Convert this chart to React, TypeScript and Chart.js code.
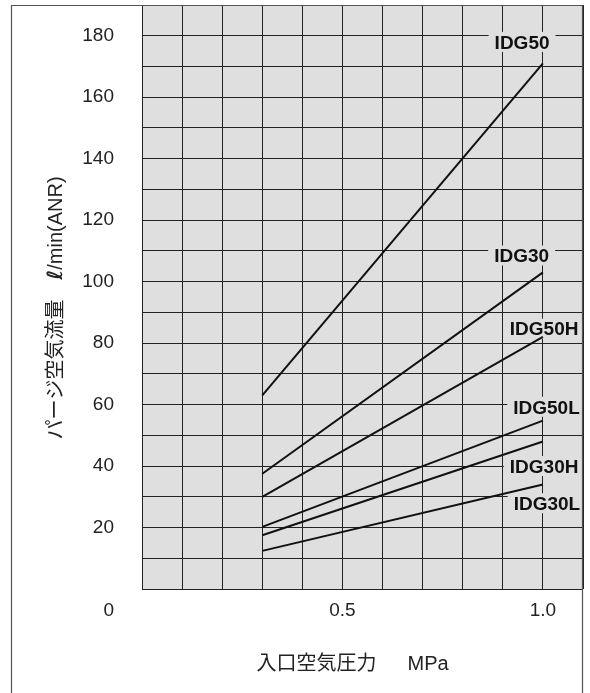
import React, { useEffect, useRef } from 'react';
import { Chart, registerables } from 'chart.js';

Chart.register(...registerables);

// ---- data ----
const pressures = [0.3, 1.0];
const seriesNames = ['IDG50', 'IDG30', 'IDG50H', 'IDG50L', 'IDG30H', 'IDG30L'];
const flowAtLow = [63, 37.5, 30, 20.2, 17.5, 12.4];
const flowAtHigh = [171, 103, 82, 54.8, 48, 34];
const labelPressure = [0.948, 0.947, 1.003, 1.009, 1.003, 1.01];
const labelFlow = [178, 108.5, 84.7, 59.3, 40, 27.9];
const xLabeledTicks = [0.5, 1.0];
const xTickTexts = ['0.5', '1.0'];
const yLabeledTicks = [20, 40, 60, 80, 100, 120, 140, 160, 180];
const originLabel = '0';
const xTitle = '入口空気圧力　  MPa　';
const yTitleParts = ['パージ空気流量　', 'ℓ', '/min(ANR)'];

const PLOT_BG = '#dfdfdf';
const GRID = '#222';
const FONT = "'Liberation Sans', 'Noto Sans CJK JP', sans-serif";
const yTitleFonts = [`20px ${FONT}`, `italic bold 21px 'DejaVu Sans', ${FONT}`, `20px ${FONT}`];

const bgPlugin = {
  id: 'plotBg',
  beforeDraw(chart: any) {
    const { ctx, chartArea: a } = chart;
    ctx.save();
    ctx.fillStyle = PLOT_BG;
    ctx.fillRect(a.left, a.top, a.right - a.left, a.bottom - a.top);
    ctx.restore();
  },
};

const labelPlugin = {
  id: 'seriesLabels',
  beforeDatasetsDraw(chart: any) {
    const { ctx, chartArea: a, scales } = chart;
    ctx.save();
    ctx.beginPath();
    ctx.rect(a.left, a.top, a.right - a.left, a.bottom - a.top);
    ctx.clip();
    ctx.font = `bold 19px ${FONT}`;
    ctx.textAlign = 'center';
    ctx.textBaseline = 'alphabetic';
    seriesNames.forEach((name, i) => {
      const cx = scales.x.getPixelForValue(labelPressure[i]);
      const cy = scales.y.getPixelForValue(labelFlow[i]);
      const w = ctx.measureText(name).width;
      ctx.fillStyle = PLOT_BG;
      ctx.fillRect(cx - w / 2 - 6, cy - 10, w + 12, 20);
      ctx.fillStyle = '#111';
      ctx.fillText(name, cx, cy + 0.358 * 19);
    });
    ctx.restore();
  },
};

const framePlugin = {
  id: 'frame',
  afterDraw(chart: any) {
    const { ctx, chartArea: a, height } = chart;
    ctx.save();
    ctx.strokeStyle = '#555';
    ctx.lineWidth = 1.2;
    ctx.beginPath();
    ctx.moveTo(11.5, height);
    ctx.lineTo(11.5, a.top + 0.5);
    ctx.lineTo(a.right - 0.5, a.top + 0.5);
    ctx.lineTo(a.right - 0.5, height);
    ctx.stroke();
    ctx.fillStyle = '#222';
    ctx.font = `19px ${FONT}`;
    ctx.textAlign = 'right';
    ctx.textBaseline = 'middle';
    ctx.fillText(originLabel, a.left - 28, a.bottom + 10 + (19 * 1.2) / 2);

    // y-axis title (mixed fonts), rotated
    const widths = yTitleParts.map((p, i) => { ctx.font = yTitleFonts[i]; return ctx.measureText(p).width; });
    const total = widths.reduce((s, w) => s + w, 0);
    ctx.translate(55, (a.top + a.bottom) / 2 + 11);
    ctx.rotate(-Math.PI / 2);
    ctx.textAlign = 'left';
    ctx.textBaseline = 'alphabetic';
    let x = -total / 2;
    yTitleParts.forEach((p, i) => {
      ctx.font = yTitleFonts[i];
      ctx.fillText(p, x, 7.4);
      x += widths[i];
    });
    ctx.restore();
  },
};

export default function App() {
  const ref = useRef<HTMLCanvasElement>(null);
  useEffect(() => {
    const canvas = ref.current!;
    const datasets = seriesNames.map((name, i) => ({
      label: name,
      data: [
        { x: pressures[0], y: flowAtLow[i] },
        { x: pressures[1], y: flowAtHigh[i] },
      ],
      borderColor: '#111',
      borderWidth: 2,
      pointRadius: 0,
      fill: false,
      tension: 0,
    }));
    const chart = new Chart(canvas, {
      type: 'line',
      data: { datasets },
      options: {
        animation: false,
        responsive: false,
        devicePixelRatio: 1,
        layout: { autoPadding: false, padding: { left: 0, right: 7, top: 5, bottom: 0 } },
        plugins: { legend: { display: false }, tooltip: { enabled: false } },
        scales: {
          x: {
            type: 'linear',
            min: 0,
            max: 1.1,
            afterFit: (s: any) => {
              s.height = 104;
              s.paddingLeft = 0; s.paddingRight = 0; s.paddingTop = 0; s.paddingBottom = 0;
            },
            grid: { color: GRID, lineWidth: 1, drawTicks: false },
            border: { display: false },
            ticks: {
              stepSize: 0.1,
              autoSkip: false,
              maxRotation: 0,
              padding: 10,
              color: '#222',
              font: { family: FONT, size: 19 },
              callback: (v: any) => {
                const idx = xLabeledTicks.findIndex((t) => Math.abs(t - Number(v)) < 1e-6);
                return idx >= 0 ? xTickTexts[idx] : '';
              },
            },
            title: {
              display: true,
              text: xTitle,
              color: '#222',
              font: { family: FONT, size: 20 },
              padding: { top: 0, bottom: 17 },
            },
          },
          y: {
            type: 'linear',
            min: 0,
            max: 190,
            afterFit: (s: any) => {
              s.width = 142;
              s.paddingLeft = 0; s.paddingRight = 0; s.paddingTop = 0; s.paddingBottom = 0;
            },
            grid: { color: GRID, lineWidth: 1, drawTicks: false },
            border: { display: false },
            ticks: {
              stepSize: 10,
              autoSkip: false,
              padding: 28,
              color: '#222',
              font: { family: FONT, size: 19 },
              callback: (v: any) => (yLabeledTicks.includes(Math.round(Number(v))) ? String(Math.round(Number(v))) : ''),
            },
            title: { display: false },
          },
        },
      },
      plugins: [bgPlugin, labelPlugin, framePlugin],
    } as any);
    return () => chart.destroy();
  }, []);
  return (
    <div style={{ position: 'absolute', left: 0, top: 0, width: 590, height: 693, background: '#fff' }}>
      <canvas ref={ref} width={590} height={693} style={{ display: 'block' }} />
    </div>
  );
}
